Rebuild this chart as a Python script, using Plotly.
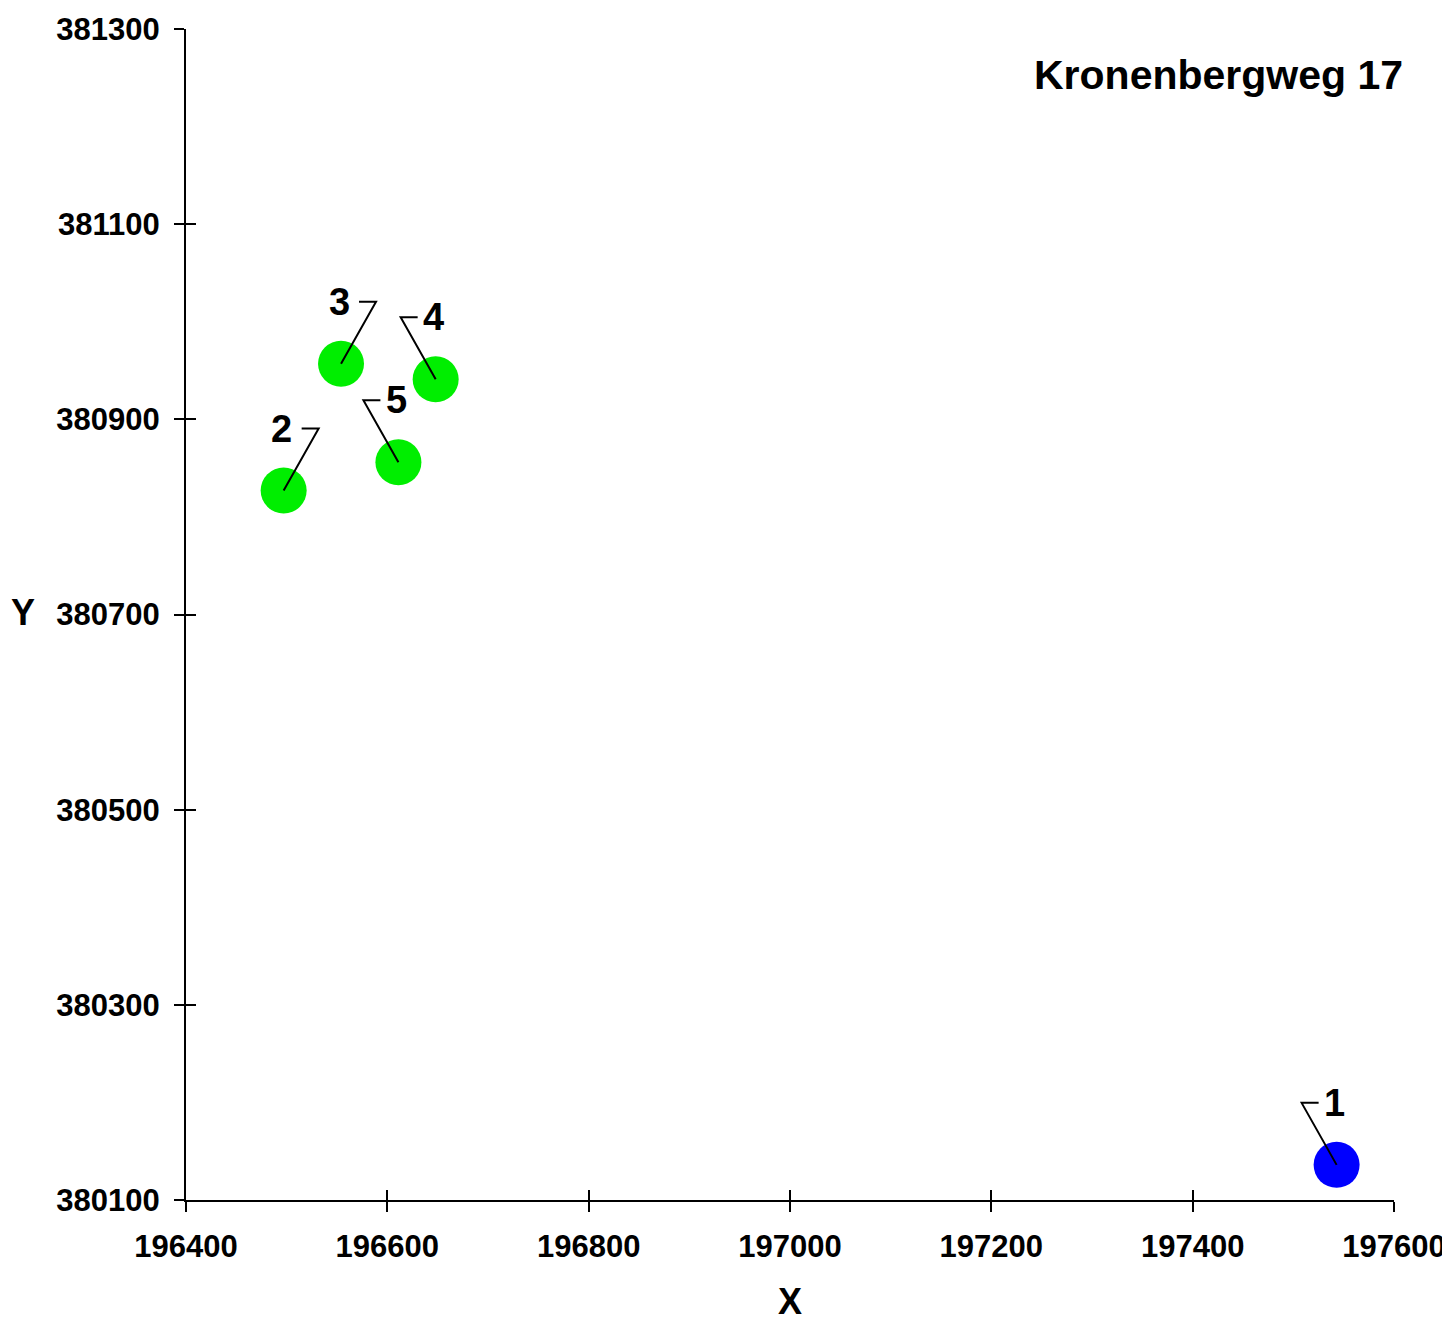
import plotly.graph_objects as go

# Data
labels = ["1", "2", "3", "4", "5"]
x_vals = [197543, 196497, 196554, 196648, 196611]
y_vals = [380136, 380827, 380957, 380941, 380856]
colors = ["#0000FF", "#00EE00", "#00EE00", "#00EE00", "#00EE00"]
# label side: +1 elbow right of point, -1 elbow left of point
sides = [-1, 1, 1, -1, -1]

x_ticks = [196400, 196600, 196800, 197000, 197200, 197400, 197600]
y_ticks = [380100, 380300, 380500, 380700, 380900, 381100, 381300]
title_text = "Kronenbergweg 17"

FONT = "Liberation Sans"
xr = [196400, 197600]
yr = [380100, 381300]

fig = go.Figure()
fig.add_trace(go.Scatter(
    x=x_vals, y=y_vals, mode="markers",
    marker=dict(size=46, color=colors, line=dict(width=0)),
    showlegend=False, hoverinfo="skip",
))
# invisible copy on overlay axes so their inside ticks are drawn
fig.add_trace(go.Scatter(x=x_vals, y=y_vals, xaxis="x2", yaxis="y2", mode="markers",
                         marker=dict(opacity=0), showlegend=False, hoverinfo="skip"))

# leader lines and labels
for lab, xv, yv, s in zip(labels, x_vals, y_vals, sides):
    path = f"M 0,0 L {35*s},62 L {18*s},62"
    fig.add_shape(type="path", xref="x", yref="y", xsizemode="pixel", ysizemode="pixel",
                  xanchor=xv, yanchor=yv, path=path,
                  line=dict(color="black", width=2))
    fig.add_annotation(x=xv, y=yv, xref="x", yref="y", text=f"<b>{lab}</b>",
                       showarrow=False, xshift=-2, yshift=62,
                       font=dict(family=FONT, size=38, color="black"))

fig.add_annotation(x=1.009, y=0.961, xref="paper", yref="paper", xanchor="right", yanchor="middle",
                   text=f"<b>{title_text}</b>", showarrow=False,
                   font=dict(family=FONT, size=41, color="black"))
fig.add_annotation(x=-0.135, y=0.502, xref="paper", yref="paper", xanchor="center", yanchor="middle",
                   text="<b>Y</b>", showarrow=False,
                   font=dict(family=FONT, size=36, color="black"))

axis_common = dict(showgrid=False, zeroline=False, showline=True, linecolor="black", linewidth=2,
                   ticks="outside", ticklen=10, tickwidth=2, tickcolor="black", automargin=False,
                   ticklabelstandoff=8)

fig.update_layout(
    width=1442, height=1314,
    margin=dict(l=178, r=56, t=21, b=122),
    plot_bgcolor="white", paper_bgcolor="white",
    xaxis=dict(range=xr, tickvals=x_ticks, ticktext=[f"<b>{v}</b>" for v in x_ticks],
               tickfont=dict(family=FONT, size=31, color="black"),
               title=dict(text="<b>X</b>", font=dict(family=FONT, size=36, color="black"), standoff=28),
               **axis_common),
    yaxis=dict(range=yr, tickvals=y_ticks, ticktext=[f"<b>{v}</b>" for v in y_ticks],
               tickfont=dict(family=FONT, size=31, color="black"),
               **axis_common),
    xaxis2=dict(range=xr, overlaying="x", tickvals=x_ticks, showticklabels=False, showgrid=False,
                zeroline=False, showline=False, ticks="inside", ticklen=10, tickwidth=2, tickcolor="black",
                side="bottom", anchor="y", automargin=False),
    yaxis2=dict(range=yr, overlaying="y", tickvals=y_ticks, showticklabels=False, showgrid=False,
                zeroline=False, showline=False, ticks="inside", ticklen=10, tickwidth=2, tickcolor="black",
                side="left", anchor="x", automargin=False),
)

fig.write_html("out.html")
